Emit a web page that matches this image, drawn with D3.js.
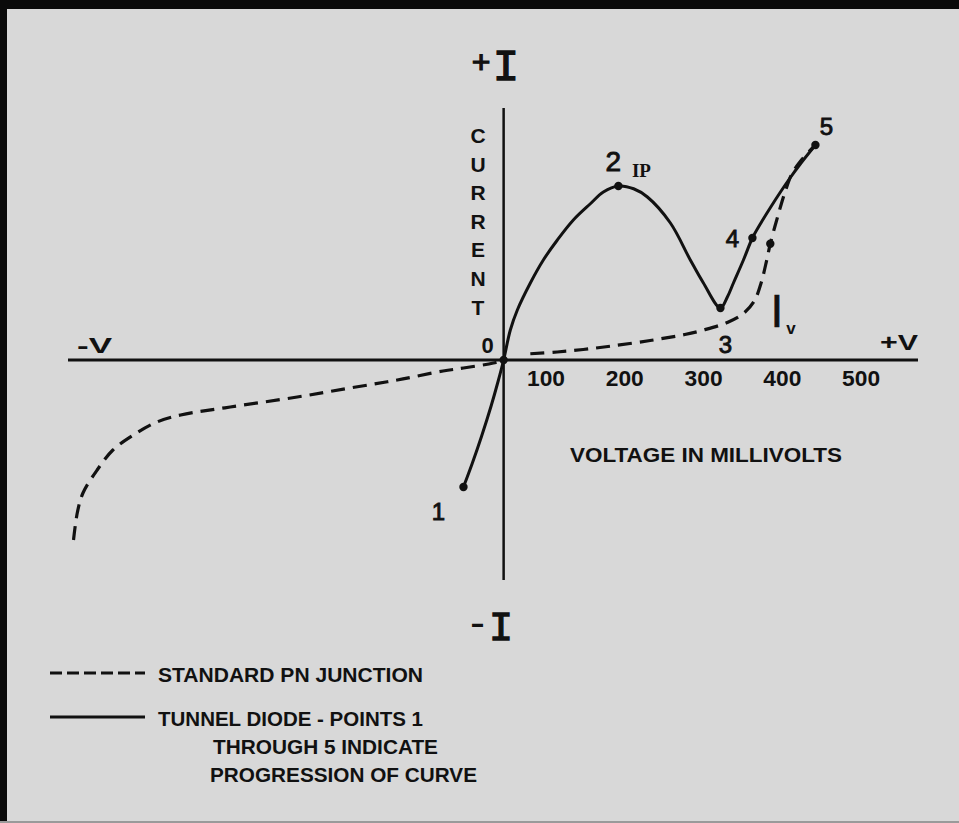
<!DOCTYPE html>
<html>
<head>
<meta charset="utf-8">
<script src="https://cdn.jsdelivr.net/npm/d3@7"></script>
<style>
  html, body { margin: 0; padding: 0; background: #d8d8d8; }
  svg { display: block; }
</style>
</head>
<body>
<svg id="chart" width="959" height="823"></svg>
<script>
// Voltage (mV) tick labels along the +V axis
const voltTicks = [100, 200, 300, 400, 500];

// Tunnel diode I-V characteristic (voltage in mV, current in arbitrary units)
const tunnelV = [-51, -40, -28, -16, -7, 0, 8.5, 17.4, 33.9, 50.4, 68.2, 88.5, 110.1, 126.6, 145.7, 165,
                 182.5, 211.7, 237, 253.6, 275.2, 284, 291.7, 304.4, 315.8, 326, 338.7, 351.4, 364, 376.8, 395.8];
const tunnelI = [-5.08, -4.15, -3.05, -1.85, -0.85, 0, 1.2, 2.0, 3.08, 4.0, 4.8, 5.6, 6.25, 6.72, 6.96, 6.85,
                 6.52, 5.48, 4.0, 3.08, 2.08, 2.52, 3.08, 4.0, 4.88, 5.45, 6.1, 6.72, 7.3, 7.85, 8.6];

// Standard PN junction, reverse-bias branch
const pnRevV = [-546, -541, -534, -516, -496, -470, -440, -410, -347, -262, -195, -135, -77, -51, -13, 0];
const pnRevI = [-7.2, -6.08, -5.32, -4.4, -3.6, -3.0, -2.48, -2.2, -1.88, -1.48, -1.12, -0.8, -0.44, -0.32, -0.12, 0];

// Standard PN junction, forward-bias branch
const pnFwdV = [33.9, 68, 101, 135, 186, 230, 254, 284, 304, 318, 327, 334, 338.5, 348, 357, 366, 378, 395.8];
const pnFwdI = [0.25, 0.32, 0.42, 0.55, 0.78, 1.02, 1.2, 1.5, 1.85, 2.35, 3.1, 4.0, 4.65, 5.75, 6.7, 7.45, 8.0, 8.6];

// Numbered points along the tunnel diode curve
const pointNames = ["1", "2", "3", "4", "5"];
const pointV = [-51, 145.7, 275.2, 315.8, 395.8];
const pointI = [-5.08, 6.96, 2.08, 4.88, 8.6];

// Extra dots: the origin and one on the PN forward branch
const dotV = [0, 338.5];
const dotI = [0, 4.65];

const legendLabels = ["STANDARD PN JUNCTION", "TUNNEL DIODE - POINTS 1"];
const legendNotes = ["THROUGH 5 INDICATE", "PROGRESSION OF CURVE"];
const axisLetters = "CURRENT".split("");

const SANS = "'Liberation Sans', Arial, sans-serif";
const MONO = "'Liberation Mono', 'DejaVu Sans Mono', monospace";
const ink = "#111";

const svg = d3.select("#chart");
const W = 959, H = 823;

// background and frame
svg.append("rect").attr("width", W).attr("height", H).attr("fill", "#d8d8d8");
svg.append("rect").attr("x", 0).attr("y", 0).attr("width", W).attr("height", 9).attr("fill", "#0a0a0a");
svg.append("rect").attr("x", 0).attr("y", 0).attr("width", 7).attr("height", H).attr("fill", "#0a0a0a");
svg.append("rect").attr("x", 0).attr("y", H - 2).attr("width", W).attr("height", 2).attr("fill", "#9a9a9a");

// scales
const x = d3.scaleLinear().domain([-553, 526]).range([68, 918]);
const y = d3.scaleLinear().domain([-10, 10]).range([610, 110]);

function label(sel, opts) {
  sel.style("font-family", opts.family || SANS)
     .style("font-size", opts.size + "px")
     .style("font-weight", opts.weight || "normal")
     .attr("fill", ink);
  if (opts.stroke) sel.attr("stroke", ink).attr("stroke-width", opts.stroke);
  return sel;
}

// axes
svg.append("line")
  .attr("x1", x(-553)).attr("x2", x(526))
  .attr("y1", y(0)).attr("y2", y(0))
  .attr("stroke", ink).attr("stroke-width", 3);
svg.append("line")
  .attr("x1", x(0)).attr("x2", x(0))
  .attr("y1", y(10.08)).attr("y2", y(-8.8))
  .attr("stroke", ink).attr("stroke-width", 2.5);

// voltage labels, each centred in its 100 mV interval
svg.append("g").selectAll("text").data(voltTicks).join("text")
  .attr("x", d => x(d - 50) + 3)
  .attr("y", y(0) + 26)
  .attr("text-anchor", "middle")
  .attr("textLength", 38).attr("lengthAdjust", "spacingAndGlyphs")
  .call(label, { size: 22, weight: "bold" })
  .text(d => d);

svg.append("text")
  .attr("x", 706).attr("y", 462)
  .attr("text-anchor", "middle")
  .attr("textLength", 272).attr("lengthAdjust", "spacingAndGlyphs")
  .call(label, { size: 21, weight: "bold" })
  .text("VOLTAGE IN MILLIVOLTS");

// axis end labels
svg.append("text").attr("x", 77).attr("y", 353)
  .attr("textLength", 35).attr("lengthAdjust", "spacingAndGlyphs")
  .call(label, { size: 22, weight: "bold" }).text("-V");
svg.append("text").attr("x", 880).attr("y", 350)
  .attr("textLength", 38).attr("lengthAdjust", "spacingAndGlyphs")
  .call(label, { size: 22, weight: "bold" }).text("+V");

// +I / -I
svg.append("text").attr("x", 481).attr("y", 73).attr("text-anchor", "middle")
  .call(label, { size: 32, stroke: 1.2 }).text("+");
svg.append("text").attr("x", 506).attr("y", 80).attr("text-anchor", "middle")
  .call(label, { size: 44, family: MONO, stroke: 1.3 }).text("I");
svg.append("text").attr("x", 470).attr("y", 636)
  .attr("textLength", 15).attr("lengthAdjust", "spacingAndGlyphs")
  .call(label, { size: 40 }).text("-");
svg.append("text").attr("x", 501).attr("y", 640).attr("text-anchor", "middle")
  .call(label, { size: 40, family: MONO, stroke: 1.3 }).text("I");

// vertical CURRENT label
svg.append("g").selectAll("text").data(axisLetters).join("text")
  .attr("x", 478)
  .attr("y", (d, i) => 143 + i * 28.6)
  .attr("text-anchor", "middle")
  .call(label, { size: 21, weight: "bold" })
  .text(d => d);

// curves
const line = d3.line()
  .x(d => x(d[0])).y(d => y(d[1]))
  .curve(d3.curveCatmullRom.alpha(0.5));

const pnRev = pnRevV.map((v, i) => [v, pnRevI[i]]);
const pnFwd = pnFwdV.map((v, i) => [v, pnFwdI[i]]);
const tunnel = tunnelV.map((v, i) => [v, tunnelI[i]]);

svg.append("path").datum(pnRev).attr("d", line)
  .attr("fill", "none").attr("stroke", ink).attr("stroke-width", 3.2)
  .attr("stroke-dasharray", "14,8");
svg.append("path").datum(pnFwd).attr("d", line)
  .attr("fill", "none").attr("stroke", ink).attr("stroke-width", 3.2)
  .attr("stroke-dasharray", "14,8");
svg.append("path").datum(tunnel).attr("d", line)
  .attr("fill", "none").attr("stroke", ink).attr("stroke-width", 3)
  .attr("stroke-linejoin", "round");

// dots
const dots = pointV.map((v, i) => [v, pointI[i]]).concat(dotV.map((v, i) => [v, dotI[i]]));
svg.append("g").selectAll("circle").data(dots).join("circle")
  .attr("cx", d => x(d[0])).attr("cy", d => y(d[1])).attr("r", 4.2).attr("fill", ink);

// point numbers
const labelOffsets = [[-25, 24], [-5, -25], [5, 36], [-20, 0], [11, -19]];
svg.append("g").selectAll("text").data(pointNames).join("text")
  .attr("x", (d, i) => x(pointV[i]) + labelOffsets[i][0])
  .attr("y", (d, i) => y(pointI[i]) + labelOffsets[i][1])
  .attr("text-anchor", "middle").attr("dominant-baseline", "central")
  .call(label, { size: 24, stroke: 0.9 })
  .style("font-size", (d, i) => (i === 1 ? 28 : 24) + "px")
  .text(d => d);

// origin and peak / valley annotations
svg.append("text").attr("x", x(0) - 16).attr("y", y(0) - 15)
  .attr("text-anchor", "middle").attr("dominant-baseline", "central")
  .call(label, { size: 22, weight: "bold" }).text("0");
svg.append("text").attr("x", x(pointV[1]) + 23).attr("y", y(pointI[1]) - 9)
  .attr("text-anchor", "middle")
  .call(label, { size: 19, weight: "bold", family: "'Liberation Serif', serif" }).text("IP");
svg.append("text").attr("x", 777).attr("y", 327).attr("text-anchor", "middle")
  .call(label, { size: 46, stroke: 0.6 }).text("I");
svg.append("text").attr("x", 791).attr("y", 334).attr("text-anchor", "middle")
  .call(label, { size: 17, weight: "bold" }).text("v");

// legend
const legY = [673, 717];
svg.append("line").attr("x1", 50).attr("x2", 145).attr("y1", legY[0]).attr("y2", legY[0])
  .attr("stroke", ink).attr("stroke-width", 3.2).attr("stroke-dasharray", "12,5");
svg.append("line").attr("x1", 50).attr("x2", 145).attr("y1", legY[1]).attr("y2", legY[1])
  .attr("stroke", ink).attr("stroke-width", 3);
svg.append("g").selectAll("text").data(legendLabels).join("text")
  .attr("x", 158).attr("y", (d, i) => legY[i] + 9)
  .attr("textLength", 265).attr("lengthAdjust", "spacingAndGlyphs")
  .call(label, { size: 21, weight: "bold" })
  .text(d => d);
const noteX = [213, 210], noteY = [754, 782], noteLen = [225, 267];
svg.append("g").selectAll("text").data(legendNotes).join("text")
  .attr("x", (d, i) => noteX[i]).attr("y", (d, i) => noteY[i])
  .attr("textLength", (d, i) => noteLen[i]).attr("lengthAdjust", "spacingAndGlyphs")
  .call(label, { size: 21, weight: "bold" })
  .text(d => d);
</script>
</body>
</html>
